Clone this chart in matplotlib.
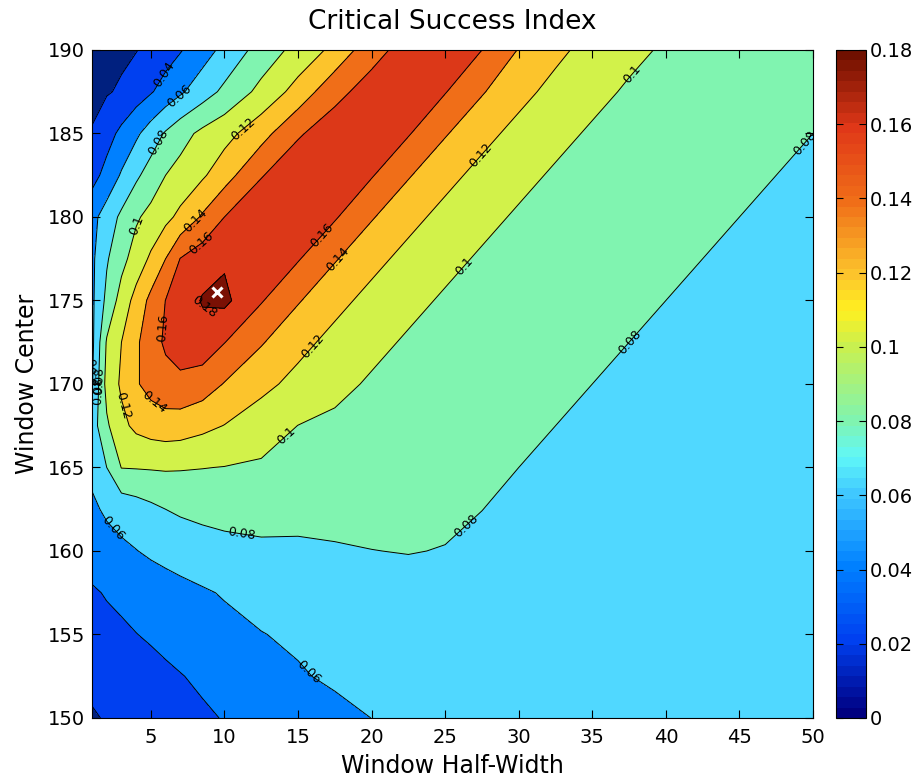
import numpy as np
import matplotlib.pyplot as plt
from matplotlib.colors import LinearSegmentedColormap, Normalize
from matplotlib.cm import ScalarMappable

plt.rcParams['font.family'] = ['DejaVu Sans']

# grid: window half-width (columns) and window center (rows)
half_width = [1, 2, 3, 4, 5, 6, 7, 8.5, 10, 12.5, 15, 17.5, 20, 22.5, 25, 27.5,
              30, 32.5, 35, 37.5, 40, 42.5, 45, 47.5, 50]
center = [150, 152.5, 155, 157.5, 160, 162.5, 165, 167.5, 170, 172.5, 175,
          177.5, 180, 182.5, 185, 187.5, 190]

# critical success index, one row per window center (150 -> 190)
csi_150 = [0.018, 0.0215, 0.024, 0.0265, 0.029, 0.0315, 0.034, 0.0375, 0.0408, 0.046, 0.051, 0.0555,
           0.0601, 0.0608, 0.061, 0.0605, 0.0602, 0.0604, 0.0606, 0.0606, 0.0605, 0.0604, 0.0603,
           0.0604, 0.0606]
csi_152 = [0.025, 0.027, 0.0295, 0.032, 0.0345, 0.037, 0.0393, 0.0428, 0.0463, 0.052, 0.0585, 0.0625,
           0.063, 0.0635, 0.0635, 0.063, 0.0625, 0.0622, 0.062, 0.0618, 0.0615, 0.0613, 0.0612,
           0.0611, 0.061]
csi_155 = [0.031, 0.034, 0.037, 0.0397, 0.042, 0.0445, 0.047, 0.0505, 0.054, 0.0595, 0.0625, 0.065,
           0.0665, 0.067, 0.067, 0.0665, 0.066, 0.0655, 0.065, 0.0645, 0.064, 0.0635, 0.063,
           0.0628, 0.0625]
csi_157 = [0.0375, 0.0415, 0.044, 0.0465, 0.049, 0.0515, 0.054, 0.0578, 0.0615, 0.0655, 0.069, 0.0715,
           0.0735, 0.0745, 0.074, 0.0725, 0.071, 0.070, 0.069, 0.068, 0.067, 0.0665, 0.066,
           0.065, 0.064]
csi_160 = [0.05, 0.0535, 0.0565, 0.0595, 0.063, 0.066, 0.069, 0.0725, 0.075, 0.077, 0.077, 0.0785,
           0.0798, 0.0805, 0.0795, 0.0775, 0.0755, 0.0735, 0.072, 0.0705, 0.069, 0.068, 0.067,
           0.066, 0.065]
csi_162 = [0.057, 0.0626, 0.067, 0.071, 0.0757, 0.080, 0.0825, 0.0845, 0.0855, 0.086, 0.0855, 0.0852,
           0.0848, 0.0842, 0.0828, 0.0801, 0.0775, 0.0755, 0.0735, 0.072, 0.0705, 0.069, 0.068,
           0.067, 0.066]
csi_165 = [0.064, 0.080, 0.1005, 0.101, 0.1015, 0.102, 0.1015, 0.1005, 0.0995, 0.0975, 0.0955, 0.093,
           0.091, 0.0885, 0.086, 0.083, 0.080, 0.077, 0.075, 0.073, 0.072, 0.0705, 0.069,
           0.068, 0.067]
csi_167 = [0.07, 0.097, 0.115, 0.1245, 0.129, 0.131, 0.13, 0.125, 0.1195, 0.109, 0.0998, 0.097,
           0.095, 0.092, 0.089, 0.086, 0.083, 0.080, 0.078, 0.076, 0.074, 0.0725, 0.071,
           0.0695, 0.068]
csi_170 = [0.058, 0.1067, 0.123, 0.138, 0.147, 0.153, 0.155, 0.150, 0.139, 0.1255, 0.114, 0.104,
           0.0982, 0.095, 0.092, 0.089, 0.086, 0.083, 0.080, 0.078, 0.076, 0.074, 0.072,
           0.0705, 0.069]
csi_172 = [0.055, 0.102, 0.12, 0.1367, 0.1514, 0.163, 0.17, 0.172, 0.1605, 0.1416, 0.126, 0.114,
           0.104, 0.0982, 0.095, 0.092, 0.089, 0.086, 0.083, 0.080, 0.078, 0.076, 0.074,
           0.072, 0.070]
csi_175 = [0.056, 0.085, 0.108, 0.127, 0.1453, 0.1603, 0.168, 0.1815, 0.1845, 0.1615, 0.1416, 0.126,
           0.114, 0.104, 0.0982, 0.095, 0.092, 0.089, 0.086, 0.083, 0.080, 0.078, 0.076,
           0.074, 0.072]
csi_177 = [0.056, 0.078, 0.094, 0.1086, 0.1233, 0.14, 0.1605, 0.171, 0.1775, 0.176, 0.1615, 0.1416,
           0.126, 0.114, 0.104, 0.0982, 0.095, 0.092, 0.089, 0.086, 0.083, 0.080, 0.078,
           0.076, 0.074]
csi_180 = [0.054, 0.069, 0.084, 0.0974, 0.106, 0.1148, 0.1247, 0.1424, 0.16, 0.173, 0.175, 0.162,
           0.1416, 0.126, 0.114, 0.104, 0.0982, 0.095, 0.092, 0.089, 0.0861, 0.083, 0.080,
           0.078, 0.076]
csi_182 = [0.033, 0.0464, 0.0621, 0.0764, 0.0886, 0.100, 0.1069, 0.1172, 0.1316, 0.1589, 0.172, 0.1745,
           0.1615, 0.1416, 0.126, 0.114, 0.104, 0.0982, 0.095, 0.092, 0.0891, 0.0861, 0.083,
           0.080, 0.078]
csi_185 = [0.021, 0.0325, 0.0447, 0.0565, 0.0693, 0.0821, 0.0926, 0.1046, 0.1131, 0.1324, 0.1579, 0.170,
           0.174, 0.1615, 0.1416, 0.126, 0.114, 0.104, 0.0982, 0.095, 0.0921, 0.0891, 0.0861,
           0.083, 0.080]
csi_187 = [0.016, 0.0185, 0.0224, 0.0304, 0.0384, 0.0476, 0.0571, 0.0709, 0.0843, 0.1056, 0.1274, 0.1544,
           0.168, 0.173, 0.161, 0.1416, 0.126, 0.114, 0.104, 0.0982, 0.0952, 0.0921, 0.0891,
           0.0861, 0.083]
csi_190 = [0.010, 0.013, 0.0165, 0.0193, 0.025, 0.0318, 0.0386, 0.0515, 0.0653, 0.088, 0.1067, 0.1253,
           0.153, 0.168, 0.171, 0.160, 0.139, 0.1247, 0.113, 0.1035, 0.0982, 0.0952, 0.0921,
           0.0891, 0.0861]

# best window marked with the white x
best_half_width = 9.5
best_center = 175.5

levels = [0, 0.02, 0.04, 0.06, 0.08, 0.1, 0.12, 0.14, 0.16, 0.18]
cbar_ticks = levels

csi = np.array([csi_150, csi_152, csi_155, csi_157, csi_160, csi_162, csi_165, csi_167,
                csi_170, csi_172, csi_175, csi_177, csi_180, csi_182, csi_185, csi_187, csi_190])
X, Y = np.meshgrid(half_width, center)

# fill colour of each band (as rendered in the reference)
band_colors = ['#00207f', '#0040f0', '#0080ff', '#50d8ff', '#80f4b0',
               '#d2f24a', '#fcc42c', '#f06e18', '#dc3818', '#7a1004']
# colour bar ramp (jet-like, 64 steps)
ramp = ['#000080', '#0040f0', '#0080ff', '#40c8ff', '#60f8f8', '#80f4b0',
        '#c8f050', '#fff020', '#fcc42c', '#f06e18', '#e03818', '#701000']
ramp_pos = [0, 0.111, 0.222, 0.333, 0.389, 0.444, 0.556, 0.611, 0.667, 0.778, 0.889, 1.0]
cb_cmap = LinearSegmentedColormap.from_list('csi', list(zip(ramp_pos, ramp)), N=64)

fig = plt.figure(figsize=(9.22, 7.8), dpi=100)
ax = fig.add_axes([0.0998, 0.0795, 0.782, 0.8564])
cax = fig.add_axes([0.9067, 0.0795, 0.0325, 0.8564])

ax.contourf(X, Y, csi, levels=levels + [1.0], colors=band_colors)
cs = ax.contour(X, Y, csi, levels=levels[1:], colors='k', linewidths=0.7)

label_spots = [(5.8, 188.6), (6.8, 187.4), (5.9, 184.3), (11.7, 184.8), (4.1, 179.5),
               (8.1, 179.7), (8.5, 178.3), (8.6, 174.5), (5.4, 173.4), (5.1, 168.8),
               (2.8, 168.6), (1.1, 170.8), (1.35, 170.2), (1.6, 169.6),
               (16.8, 178.8), (17.8, 177.4), (15.9, 172.3), (27.3, 183.8), (26.0, 177.3),
               (37.2, 188.9), (49.6, 184.3), (37.4, 172.6), (14.3, 166.8), (11.2, 161.2),
               (26.3, 161.6), (2.2, 161.2), (15.8, 152.8)]
ax.clabel(cs, fmt='%g', fontsize=9, inline=False, manual=label_spots)

ax.plot(best_half_width, best_center, marker='x', color='white', ms=7, mew=2.2)

ax.set_xlim(1, 50)
ax.set_ylim(150, 190)
ax.set_xticks(range(5, 51, 5))
ax.set_yticks(range(150, 191, 5))
ax.tick_params(direction='in', top=True, right=True, length=6, labelsize=14)
ax.tick_params(axis='x', pad=7)
ax.tick_params(axis='y', pad=5)
ax.set_xlabel('Window Half-Width', fontsize=17, labelpad=5)
ax.set_ylabel('Window Center', fontsize=17, labelpad=6)
ax.set_title('Critical Success Index', fontsize=19, pad=15)

cb = fig.colorbar(ScalarMappable(norm=Normalize(0, 0.18), cmap=cb_cmap), cax=cax, ticks=cbar_ticks)
cb.ax.set_yticklabels(['%g' % t for t in cbar_ticks])
cb.ax.tick_params(direction='in', left=True, right=True, length=5, labelsize=14, pad=3)
cb.outline.set_linewidth(0.8)

fig.savefig('out.png', dpi=100)
